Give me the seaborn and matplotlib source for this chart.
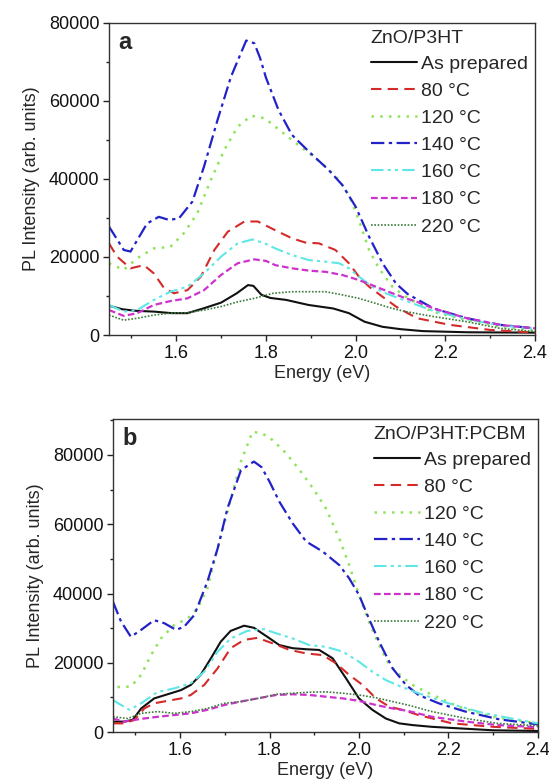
import matplotlib
matplotlib.use("Agg")
import matplotlib.pyplot as plt
import seaborn as sns
import pandas as pd
from matplotlib.ticker import MultipleLocator

sns.set_theme(style="ticks")
plt.rcParams['font.family'] = ['Liberation Sans', 'DejaVu Sans']

labels = ["As prepared", "80 °C", "120 °C", "140 °C", "160 °C", "180 °C", "220 °C"]

# ---------------- Panel a : ZnO/P3HT ----------------
black_a_E = [1.45, 1.48, 1.51, 1.55, 1.59, 1.625, 1.66, 1.70, 1.735, 1.76, 1.772, 1.79, 1.81, 1.845, 1.895, 1.95, 1.985, 2.02, 2.06, 2.10, 2.15, 2.25, 2.4]
black_a_I = [7500, 6600, 6200, 6000, 5600, 5600, 6800, 8300, 10700, 12800, 12600, 10300, 9500, 9000, 7700, 6800, 5600, 3400, 2100, 1500, 1000, 700, 600]

red_a_E = [1.45, 1.468, 1.498, 1.528, 1.55, 1.573, 1.595, 1.625, 1.655, 1.685, 1.715, 1.752, 1.782, 1.82, 1.858, 1.888, 1.918, 1.955, 1.985, 2.007, 2.03, 2.06, 2.09, 2.116, 2.137, 2.21, 2.3, 2.4]
red_a_I = [23500, 20100, 17100, 17900, 15800, 12000, 10700, 11500, 15000, 21800, 26500, 29100, 29100, 26900, 24800, 23700, 23500, 21800, 18400, 15000, 12400, 9800, 7300, 5600, 4300, 2600, 1300, 600]

green_a_E = [1.45, 1.483, 1.513, 1.55, 1.587, 1.617, 1.647, 1.677, 1.707, 1.737, 1.767, 1.797, 1.821, 1.858, 1.896, 1.933, 1.963, 1.985, 2.007, 2.03, 2.052, 2.082, 2.112, 2.17, 2.25, 2.32, 2.4]
green_a_I = [18400, 16700, 19700, 22200, 22600, 26100, 31200, 39700, 47400, 53400, 56200, 55600, 53400, 50000, 46600, 43200, 39700, 35900, 29500, 21800, 17100, 12400, 9800, 6000, 3800, 2200, 1200]

blue_a_E = [1.45, 1.483, 1.498, 1.535, 1.561, 1.584, 1.606, 1.636, 1.662, 1.692, 1.722, 1.756, 1.774, 1.787, 1.80, 1.828, 1.858, 1.896, 1.94, 1.97, 2.0, 2.03, 2.06, 2.09, 2.116, 2.174, 2.248, 2.322, 2.4]
blue_a_I = [27800, 21800, 21400, 28600, 30300, 29500, 29900, 34200, 43200, 55100, 66200, 75500, 74800, 71000, 66000, 57700, 51300, 47000, 42300, 38500, 32900, 25200, 18400, 13200, 10500, 6800, 4300, 2600, 1700]

cyan_a_E = [1.45, 1.483, 1.513, 1.55, 1.587, 1.625, 1.662, 1.70, 1.737, 1.77, 1.797, 1.821, 1.858, 1.896, 1.933, 1.963, 1.985, 2.007, 2.037, 2.067, 2.097, 2.17, 2.25, 2.32, 2.4]
cyan_a_I = [7700, 6000, 6400, 9000, 11100, 12400, 15800, 20100, 23500, 24500, 23500, 22200, 20500, 19200, 18800, 18400, 17100, 15000, 12400, 10700, 9400, 6300, 4000, 2500, 1600]

magenta_a_E = [1.45, 1.483, 1.513, 1.55, 1.587, 1.625, 1.662, 1.70, 1.737, 1.774, 1.80, 1.821, 1.858, 1.896, 1.933, 1.97, 2.007, 2.045, 2.082, 2.112, 2.137, 2.174, 2.248, 2.322, 2.4]
magenta_a_I = [6400, 4900, 5600, 7700, 8700, 9400, 11500, 15400, 18400, 19400, 19000, 17900, 17100, 16500, 16200, 15400, 14100, 12400, 10700, 9400, 8500, 6800, 4300, 2600, 1700]

dkgreen_a_E = [1.45, 1.483, 1.513, 1.55, 1.587, 1.625, 1.662, 1.70, 1.737, 1.774, 1.816, 1.858, 1.896, 1.933, 1.97, 2.007, 2.045, 2.082, 2.112, 2.17, 2.248, 2.322, 2.4]
dkgreen_a_I = [5100, 3800, 4300, 5100, 5600, 5700, 6400, 7300, 8500, 9400, 10700, 11100, 11100, 11100, 10300, 9400, 8100, 6800, 6000, 4800, 3400, 1700, 900]

# ---------------- Panel b : ZnO/P3HT:PCBM ----------------
black_b_E = [1.45, 1.475, 1.494, 1.513, 1.542, 1.572, 1.602, 1.624, 1.646, 1.669, 1.691, 1.713, 1.743, 1.765, 1.795, 1.822, 1.852, 1.882, 1.911, 1.941, 1.971, 2.0, 2.03, 2.06, 2.09, 2.12, 2.163, 2.3, 2.4]
black_b_I = [3000, 3000, 3500, 6800, 9700, 10900, 12100, 13600, 16500, 21300, 26100, 29200, 30700, 30100, 27500, 25100, 24200, 23900, 23700, 21300, 15500, 9700, 6400, 3900, 2500, 2000, 1500, 500, 300]

red_b_E = [1.45, 1.475, 1.498, 1.52, 1.542, 1.572, 1.602, 1.624, 1.654, 1.684, 1.713, 1.743, 1.773, 1.807, 1.845, 1.882, 1.919, 1.949, 1.978, 2.008, 2.038, 2.068, 2.097, 2.133, 2.208, 2.3, 2.4]
red_b_I = [2500, 2500, 3500, 6800, 8300, 9000, 9700, 10700, 13600, 18400, 24200, 26600, 27200, 25600, 23700, 22700, 22200, 19800, 16500, 13600, 9700, 7300, 6400, 4900, 2500, 1500, 900]

green_b_E = [1.46, 1.49, 1.513, 1.535, 1.557, 1.587, 1.617, 1.639, 1.661, 1.684, 1.706, 1.736, 1.762, 1.784, 1.807, 1.837, 1.867, 1.897, 1.926, 1.956, 1.978, 2.0, 2.022, 2.045, 2.068, 2.097, 2.12, 2.156, 2.223, 2.297, 2.4]
green_b_I = [13000, 13100, 16500, 22200, 27000, 30900, 32800, 35700, 41500, 53000, 63600, 78100, 86700, 86200, 84300, 80500, 75700, 70400, 64600, 55900, 48200, 39600, 31900, 25100, 19300, 15800, 13600, 11200, 7300, 4400, 2500]

blue_b_E = [1.45, 1.468, 1.49, 1.513, 1.542, 1.565, 1.591, 1.609, 1.632, 1.661, 1.684, 1.706, 1.736, 1.765, 1.782, 1.80, 1.822, 1.852, 1.882, 1.919, 1.956, 1.978, 2.0, 2.022, 2.045, 2.075, 2.105, 2.133, 2.178, 2.238, 2.312, 2.4]
blue_b_I = [37600, 31900, 27500, 29500, 32300, 31400, 29500, 30400, 33800, 43400, 53000, 64600, 75600, 78100, 76500, 72300, 66500, 60200, 55000, 52100, 48200, 44400, 39600, 32800, 26100, 18400, 13600, 10700, 8300, 5900, 3700, 2200]

cyan_b_E = [1.45, 1.468, 1.487, 1.513, 1.55, 1.587, 1.624, 1.654, 1.684, 1.713, 1.75, 1.788, 1.815, 1.852, 1.889, 1.926, 1.964, 2.0, 2.03, 2.06, 2.09, 2.133, 2.2, 2.275, 2.349, 2.4]
cyan_b_I = [9200, 7800, 6400, 8300, 11600, 12600, 14100, 17400, 23200, 27000, 29200, 29700, 28500, 27000, 25100, 24600, 23200, 20300, 17400, 15000, 13300, 11200, 8300, 5600, 3700, 2500]

magenta_b_E = [1.45, 1.475, 1.513, 1.55, 1.587, 1.624, 1.661, 1.699, 1.736, 1.773, 1.815, 1.852, 1.889, 1.926, 1.964, 2.0, 2.038, 2.075, 2.109, 2.163, 2.24, 2.31, 2.4]
magenta_b_I = [3900, 3000, 3800, 4400, 4900, 5400, 6400, 7800, 8800, 9700, 10700, 10900, 10700, 10200, 9700, 9000, 7800, 6800, 6100, 4400, 3000, 2000, 1400]

dkgreen_b_E = [1.45, 1.483, 1.513, 1.55, 1.587, 1.624, 1.661, 1.699, 1.736, 1.773, 1.815, 1.852, 1.889, 1.926, 1.964, 2.0, 2.038, 2.075, 2.109, 2.163, 2.24, 2.31, 2.4]
dkgreen_b_I = [4400, 3900, 5400, 5900, 5400, 5900, 6800, 8300, 8800, 9700, 10900, 11200, 11500, 11600, 11200, 10700, 9900, 8800, 7800, 5900, 3900, 2500, 1800]

colors = ["#111111", "#d42a2a", "#8fe35a", "#2222c8", "#5fe6e6", "#cc33cc", "#3c7a3c"]
styles = ["-", (0, (5, 3)), (0, (1, 2.5)), (0, (6, 2, 1.5, 2)), (0, (6, 2, 1.5, 2, 1.5, 2)), (0, (3, 1.5)), (0, (1, 1))]
widths = [1.5, 1.5, 1.8, 1.6, 1.5, 1.6, 1.2]

panel_a = [(black_a_E, black_a_I), (red_a_E, red_a_I), (green_a_E, green_a_I), (blue_a_E, blue_a_I),
           (cyan_a_E, cyan_a_I), (magenta_a_E, magenta_a_I), (dkgreen_a_E, dkgreen_a_I)]
panel_b = [(black_b_E, black_b_I), (red_b_E, red_b_I), (green_b_E, green_b_I), (blue_b_E, blue_b_I),
           (cyan_b_E, cyan_b_I), (magenta_b_E, magenta_b_I), (dkgreen_b_E, dkgreen_b_I)]

fig = plt.figure(figsize=(5.49, 7.84), dpi=100)
ax_a = fig.add_axes([0.1985, 0.5727, 0.776, 0.398])
ax_b = fig.add_axes([0.2058, 0.0663, 0.774, 0.3993])

FS = 13
LFS = 14


def draw(ax, data, title, tag, ymax):
    for (E, I), lab, c, ls, lw in zip(data, labels, colors, styles, widths):
        df = pd.DataFrame({"E": E, "I": I})
        sns.lineplot(data=df, x="E", y="I", ax=ax, color=c, linestyle=ls, linewidth=lw,
                     label=lab, sort=False, estimator=None)
    ax.set_xlim(1.45, 2.4)
    ax.set_ylim(0, ymax)
    ax.xaxis.set_major_locator(MultipleLocator(0.2))
    ax.xaxis.set_minor_locator(MultipleLocator(0.1))
    ax.yaxis.set_major_locator(MultipleLocator(20000))
    ax.yaxis.set_minor_locator(MultipleLocator(10000))
    ax.tick_params(which="major", direction="out", length=4, width=1, labelsize=FS, pad=3,
                   colors="#222222", labelcolor="#111111")
    ax.tick_params(which="minor", direction="out", length=2.5, width=1, colors="#222222")
    ax.set_xticks([1.6, 1.8, 2.0, 2.2, 2.4])
    ax.set_xticklabels(["1.6", "1.8", "2.0", "2.2", "2.4"])
    for s in ax.spines.values():
        s.set_visible(True)
        s.set_linewidth(1.0)
        s.set_color("#333333")
    ax.set_xlabel("Energy (eV)", fontsize=FS, labelpad=2)
    ax.set_ylabel("PL Intensity (arb. units)", fontsize=FS, labelpad=6)
    ax.text(0.022, 0.975, tag, transform=ax.transAxes, fontsize=17, fontweight="bold",
            va="top", ha="left")
    leg = ax.legend(title=title, loc="upper right", frameon=False, fontsize=LFS,
                    title_fontsize=LFS, alignment="left", handlelength=2.4, handletextpad=0.2,
                    labelspacing=0.49, borderaxespad=0.25, borderpad=0.1)
    leg._legend_box.sep = 6


draw(ax_a, panel_a, "ZnO/P3HT", "a", 80000)
draw(ax_b, panel_b, "ZnO/P3HT:PCBM", "b", 90400)

fig.savefig("out.png", dpi=100)
